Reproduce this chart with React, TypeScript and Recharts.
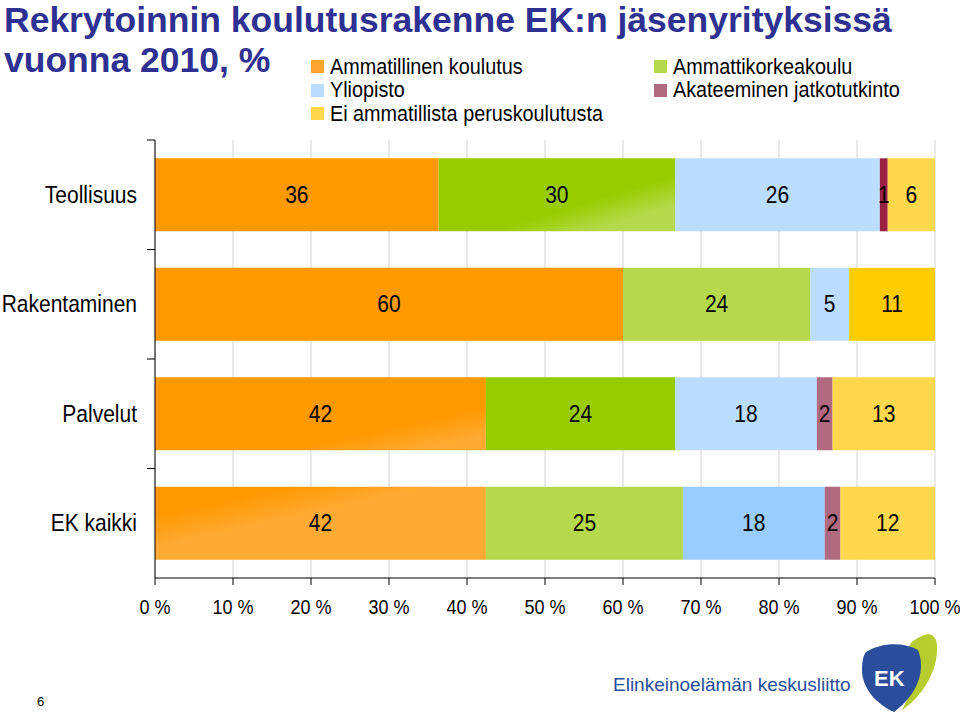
import { BarChart, Bar, XAxis, YAxis, CartesianGrid, LabelList, Cell } from 'recharts';

const categories = ['Teollisuus', 'Rakentaminen', 'Palvelut', 'EK kaikki'];
const ammatillinen = [36, 60, 42, 42];
const ammattikorkeakoulu = [30, 24, 24, 25];
const yliopisto = [26, 5, 18, 18];
const jatkotutkinto = [1, 0, 2, 2];
const eiAmmatillista = [6, 11, 13, 12];
const xTickValues = [0, 0.1, 0.2, 0.3, 0.4, 0.5, 0.6, 0.7, 0.8, 0.9, 1];
const xTickLabels = ['0 %', '10 %', '20 %', '30 %', '40 %', '50 %', '60 %', '70 %', '80 %', '90 %', '100 %'];

const series = [
  { key: 'amm', name: 'Ammatillinen koulutus', values: ammatillinen },
  { key: 'amk', name: 'Ammattikorkeakoulu', values: ammattikorkeakoulu },
  { key: 'yo', name: 'Yliopisto', values: yliopisto },
  { key: 'jatko', name: 'Akateeminen jatkotutkinto', values: jatkotutkinto },
  { key: 'ei', name: 'Ei ammatillista peruskoulutusta', values: eiAmmatillista },
];

// legend swatch colour + per-category fills (the original has slight fill variations)
const legendColors: Record<string, string> = {
  amm: '#ffa530',
  amk: '#b5d94a',
  yo: '#bbddff',
  jatko: '#b06a80',
  ei: '#ffd84d',
};
const cellFills: Record<string, string[]> = {
  amm: ['#ff9900', '#ff9900', 'url(#gOrange1)', 'url(#gOrange2)'],
  amk: ['url(#gGreen1)', '#b5d94a', '#99cc00', '#b5d94a'],
  yo: ['#bbddff', '#bbddff', '#bbddff', '#99ccff'],
  jatko: ['#992244', '#b06a80', '#b06a80', '#b06a80'],
  ei: ['#ffd84d', '#ffcc00', '#ffd84d', '#ffd84d'],
};

const data = categories.map((c, i) => {
  const row: Record<string, string | number> = { name: c };
  series.forEach((s) => (row[s.key] = s.values[i]));
  return row;
});

const SANS = "'Liberation Sans', Arial, sans-serif";

// no Arial Narrow here, so squeeze Liberation Sans horizontally
function NarrowText({ x, y, anchor = 'middle', size = 24, sx = 0.875, children }: any) {
  return (
    <text
      transform={`translate(${x},${y}) scale(${sx},1)`}
      textAnchor={anchor}
      dominantBaseline="central"
      fontSize={size}
      fontFamily={SANS}
      fill="#000"
    >
      {children}
    </text>
  );
}

function CategoryTick(props: any) {
  const { x, y, payload } = props;
  const half = payload.offset || 54.75;
  return (
    <g>
      <NarrowText x={x - 18} y={y} anchor="end">
        {payload.value}
      </NarrowText>
      <line x1={x - 8} x2={x} y1={y - half} y2={y - half} stroke="#000" strokeWidth={1} />
    </g>
  );
}

function ValueTick(props: any) {
  const { x, y, payload } = props;
  return (
    <NarrowText x={x} y={y + 12} size={20} sx={0.9}>
      {xTickLabels[xTickValues.indexOf(payload.value)] ?? ''}
    </NarrowText>
  );
}

function SegmentLabel(props: any) {
  const { x, y, width, height, value } = props;
  if (!value) return null;
  return (
    <NarrowText x={x + width / 2} y={y + height / 2}>
      {value}
    </NarrowText>
  );
}

function EkLogo() {
  return (
    <svg width={90} height={85} style={{ position: 'absolute', left: 852, top: 630 }}>
      <path d="M70 6 C82 0 88 10 84 30 C80 50 66 70 50 80 C62 58 66 38 58 24 C54 16 60 10 70 6 Z" fill="#b7cc2e" />
      <path d="M14 22 C30 12 52 12 66 20 C74 40 66 64 42 82 C24 74 10 58 10 40 C10 32 11 26 14 22 Z" fill="#2a4e9b" />
      <text x={22} y={56} fontSize={22} fontWeight="bold" fill="#fff" fontFamily={SANS}>EK</text>
    </svg>
  );
}

export default function App() {
  const col1 = [series[0], series[2], series[4]];
  const col2 = [series[1], series[3]];
  return (
    <div style={{ position: 'absolute', left: 0, top: 0, width: 960, height: 715, background: '#fff', overflow: 'hidden' }}>
      <svg width={0} height={0} style={{ position: 'absolute' }}>
        <defs>
          <linearGradient id="gGreen1" x1="0" y1="0" x2="1" y2="1">
            <stop offset="0" stopColor="#99cc00" />
            <stop offset="0.62" stopColor="#99cc00" />
            <stop offset="0.82" stopColor="#b5d94a" />
            <stop offset="1" stopColor="#b5d94a" />
          </linearGradient>
          <linearGradient id="gOrange1" x1="0" y1="0" x2="1" y2="1">
            <stop offset="0" stopColor="#ff9900" />
            <stop offset="0.7" stopColor="#ff9900" />
            <stop offset="0.9" stopColor="#ffaa33" />
            <stop offset="1" stopColor="#ffaa33" />
          </linearGradient>
          <linearGradient id="gOrange2" x1="0" y1="0" x2="1" y2="1">
            <stop offset="0" stopColor="#ff9900" />
            <stop offset="0.2" stopColor="#ff9900" />
            <stop offset="0.42" stopColor="#ffaa33" />
            <stop offset="1" stopColor="#ffaa33" />
          </linearGradient>
        </defs>
      </svg>

      <div
        style={{
          position: 'absolute',
          left: 4,
          top: 0,
          fontFamily: SANS,
          fontWeight: 'bold',
          fontSize: 35.5,
          lineHeight: '40px',
          color: '#2e3192',
          whiteSpace: 'nowrap',
        }}
      >
        Rekrytoinnin koulutusrakenne EK:n jäsenyrityksissä
        <br />
        vuonna 2010, %
      </div>

      {[col1, col2].map((col, ci) => (
        <div key={ci} style={{ position: 'absolute', left: ci === 0 ? 311 : 654, top: 55, fontFamily: SANS, fontSize: 22 }}>
          {col.map((s) => (
            <div key={s.key} style={{ display: 'flex', alignItems: 'center', height: 23.5 }}>
              <span style={{ width: 13, height: 13, background: legendColors[s.key], marginRight: 6, display: 'inline-block', flexShrink: 0 }} />
              <span style={{ display: 'inline-block', transform: 'scaleX(0.9)', transformOrigin: 'left center', whiteSpace: 'nowrap' }}>
                {s.name}
              </span>
            </div>
          ))}
        </div>
      ))}

      <div style={{ position: 'absolute', left: 0, top: 0 }}>
        <BarChart
          width={960}
          height={715}
          data={data}
          layout="vertical"
          stackOffset="expand"
          barCategoryGap="16.7%"
          margin={{ top: 140, right: 25, bottom: 97, left: 0 }}
        >
          <CartesianGrid horizontal={false} vertical stroke="#d4d4d4" />
          <XAxis
            type="number"
            domain={[0, 1]}
            ticks={xTickValues}
            axisLine={{ stroke: '#000' }}
            tickLine={{ stroke: '#000' }}
            tickSize={7}
            tickMargin={10}
            height={40}
            interval={0}
            tick={<ValueTick />}
          />
          <YAxis
            type="category"
            dataKey="name"
            width={155}
            axisLine={{ stroke: '#000' }}
            tickLine={false}
            tickSize={0}
            tickMargin={0}
            interval={0}
            tick={<CategoryTick />}
          />
          {series.map((s) => (
            <Bar key={s.key} dataKey={s.key} name={s.name} stackId="a" isAnimationActive={false}>
              {categories.map((c, i) => (
                <Cell key={c} fill={cellFills[s.key][i]} />
              ))}
              <LabelList dataKey={s.key} content={<SegmentLabel />} />
            </Bar>
          ))}
        </BarChart>
      </div>

      <div style={{ position: 'absolute', left: 37, top: 694, fontSize: 13, fontFamily: SANS }}>6</div>
      <div
        style={{
          position: 'absolute',
          left: 613,
          top: 674,
          fontSize: 19,
          color: '#2a4e9b',
          fontFamily: SANS,
        }}
      >
        Elinkeinoelämän keskusliitto
      </div>
      <EkLogo />
    </div>
  );
}
